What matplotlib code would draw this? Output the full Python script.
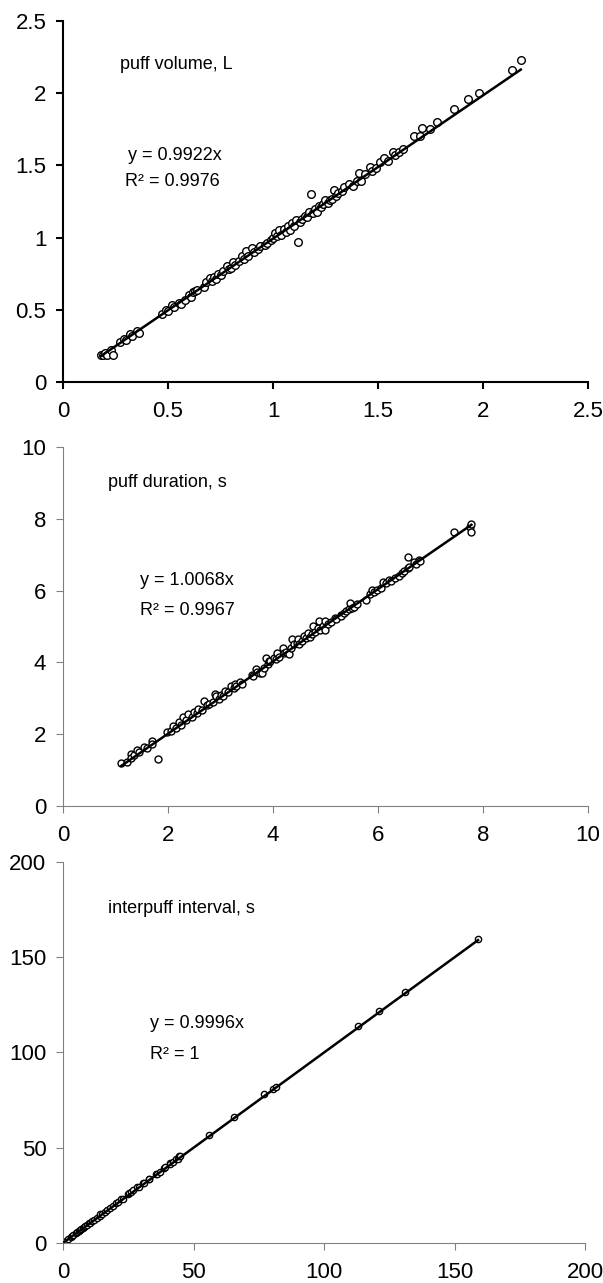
import matplotlib
matplotlib.use("Agg")
import matplotlib.pyplot as plt
from matplotlib.ticker import FuncFormatter

plt.rcParams["font.family"] = ["Liberation Sans", "DejaVu Sans"]

# puff volume, L
vol_x = [0.18, 0.19, 0.20, 0.21, 0.23, 0.24, 0.27, 0.29, 0.30, 0.32, 0.33, 0.35,
         0.36, 0.47, 0.49, 0.50, 0.52, 0.53, 0.55, 0.56, 0.58, 0.60, 0.61, 0.62,
         0.63, 0.64, 0.67, 0.68, 0.70, 0.71, 0.72, 0.73, 0.74, 0.75, 0.76, 0.78,
         0.79, 0.80, 0.81, 0.82, 0.84, 0.85, 0.86, 0.87, 0.88, 0.90, 0.91, 0.93,
         0.94, 0.96, 0.97, 0.99, 1.00, 1.01, 1.02, 1.03, 1.04, 1.05, 1.06, 1.07,
         1.08, 1.09, 1.10, 1.11, 1.12, 1.13, 1.14, 1.15, 1.16, 1.17, 1.18, 1.19,
         1.20, 1.21, 1.22, 1.23, 1.24, 1.25, 1.26, 1.27, 1.28, 1.29, 1.30, 1.31,
         1.33, 1.34, 1.36, 1.38, 1.40, 1.41, 1.42, 1.44, 1.46, 1.47, 1.49, 1.51,
         1.53, 1.55, 1.57, 1.58, 1.60, 1.62, 1.67, 1.70, 1.71, 1.75, 1.78, 1.86,
         1.93, 1.98, 2.14, 2.18]
vol_y = [0.19, 0.19, 0.20, 0.19, 0.22, 0.19, 0.28, 0.30, 0.29, 0.33, 0.32, 0.35,
         0.34, 0.47, 0.50, 0.49, 0.53, 0.52, 0.55, 0.54, 0.57, 0.60, 0.59, 0.62,
         0.63, 0.64, 0.66, 0.69, 0.72, 0.70, 0.73, 0.71, 0.75, 0.74, 0.77, 0.80,
         0.78, 0.79, 0.83, 0.81, 0.84, 0.87, 0.85, 0.91, 0.87, 0.93, 0.90, 0.92,
         0.94, 0.95, 0.96, 0.98, 1.00, 1.03, 1.01, 1.05, 1.02, 1.06, 1.04, 1.08,
         1.05, 1.10, 1.08, 1.12, 0.97, 1.11, 1.13, 1.15, 1.14, 1.18, 1.30, 1.17,
         1.20, 1.18, 1.22, 1.21, 1.23, 1.26, 1.24, 1.26, 1.27, 1.33, 1.29, 1.31,
         1.32, 1.35, 1.37, 1.36, 1.39, 1.45, 1.39, 1.44, 1.49, 1.46, 1.48, 1.52,
         1.55, 1.53, 1.59, 1.57, 1.59, 1.61, 1.70, 1.70, 1.76, 1.75, 1.80, 1.89,
         1.96, 2.00, 2.16, 2.23]

# puff duration, s
dur_x = [1.11, 1.22, 1.29, 1.30, 1.35, 1.40, 1.45, 1.55, 1.60, 1.69, 1.70, 1.80,
         1.99, 2.05, 2.10, 2.15, 2.21, 2.25, 2.28, 2.35, 2.39, 2.45, 2.50, 2.55,
         2.58, 2.65, 2.68, 2.75, 2.79, 2.85, 2.90, 2.92, 2.98, 3.00, 3.05, 3.09,
         3.15, 3.20, 3.25, 3.27, 3.30, 3.38, 3.40, 3.60, 3.62, 3.67, 3.70, 3.75,
         3.79, 3.82, 3.86, 3.90, 3.93, 3.95, 4.01, 4.05, 4.08, 4.12, 4.19, 4.20,
         4.25, 4.30, 4.35, 4.37, 4.40, 4.45, 4.48, 4.50, 4.55, 4.59, 4.62, 4.67,
         4.70, 4.75, 4.77, 4.80, 4.85, 4.88, 4.90, 4.95, 4.99, 4.99, 5.05, 5.10,
         5.18, 5.20, 5.29, 5.30, 5.35, 5.40, 5.45, 5.47, 5.51, 5.55, 5.60, 5.77,
         5.85, 5.88, 5.92, 5.99, 6.05, 6.10, 6.15, 6.21, 6.25, 6.32, 6.40, 6.46,
         6.50, 6.57, 6.57, 6.60, 6.68, 6.72, 6.79, 6.80, 7.45, 7.76, 7.78, 7.78]
dur_y = [1.20, 1.23, 1.46, 1.35, 1.42, 1.55, 1.50, 1.64, 1.62, 1.82, 1.72, 1.32,
         2.06, 2.10, 2.24, 2.18, 2.33, 2.25, 2.47, 2.40, 2.56, 2.48, 2.61, 2.60,
         2.70, 2.68, 2.93, 2.80, 2.84, 2.90, 3.12, 3.05, 2.98, 3.10, 3.05, 3.21,
         3.18, 3.35, 3.30, 3.39, 3.35, 3.44, 3.40, 3.66, 3.62, 3.81, 3.72, 3.70,
         3.70, 3.85, 4.13, 3.95, 4.05, 4.05, 4.12, 4.10, 4.27, 4.15, 4.41, 4.25,
         4.30, 4.22, 4.40, 4.64, 4.50, 4.55, 4.64, 4.52, 4.60, 4.73, 4.68, 4.82,
         4.72, 4.80, 5.00, 4.85, 4.95, 5.14, 4.90, 5.00, 5.14, 4.91, 5.08, 5.12,
         5.24, 5.20, 5.33, 5.30, 5.38, 5.42, 5.48, 5.65, 5.51, 5.55, 5.62, 5.74,
         5.90, 6.02, 5.95, 6.02, 6.08, 6.25, 6.20, 6.29, 6.28, 6.34, 6.42, 6.48,
         6.55, 6.94, 6.62, 6.65, 6.80, 6.75, 6.85, 6.82, 7.63, 7.78, 7.86, 7.63]

# interpuff interval, s
ipi_x = [0.0, 1.0, 2.0, 3.0, 3.5, 4.0, 5.0, 5.5, 6.0, 6.5, 7.0, 7.5, 8.0, 8.5,
         9.0, 10.0, 10.5, 11.0, 12.0, 13.0, 14.0, 14.3, 15.0, 16.0, 17.0, 18.0,
         19.0, 20.2, 21.0, 22.4, 23.0, 25.0, 25.4, 26.0, 27.0, 28.3, 29.0, 30.6,
         31.0, 32.8, 33.0, 35.7, 36.0, 37.0, 38.7, 39.0, 40.9, 41.0, 42.0, 43.1,
         44.0, 44.6, 45.0, 55.9, 65.5, 77.0, 80.3, 81.5, 113.2, 121.0, 130.9, 159.0]
ipi_y = [0.3, 1.2, 2.3, 3.1, 3.8, 4.2, 5.3, 5.6, 6.4, 6.8, 7.3, 7.6, 8.4, 8.7,
         9.2, 10.3, 10.6, 11.4, 12.2, 13.3, 14.3, 15.0, 15.4, 16.2, 17.5, 18.6,
         19.2, 21.0, 21.6, 23.2, 23.2, 25.8, 26.0, 26.5, 27.6, 29.2, 29.2, 31.4,
         31.4, 33.5, 33.5, 36.2, 36.2, 37.5, 39.5, 39.8, 41.8, 41.5, 42.5, 44.1,
         44.2, 45.6, 45.5, 56.6, 66.1, 78.0, 80.8, 81.8, 114.0, 121.8, 131.5, 159.8]

panels = [
    dict(x=vol_x, y=vol_y, slope=0.9922, lim=2.5, step=0.5,
         title="puff volume, L", eq="y = 0.9922x", r2="R² = 0.9976",
         title_xy=(0.27, 2.195), eq_xy=(0.31, 1.57), r2_xy=(0.295, 1.385),
         rect=[0.1045, 0.7023, 0.8706, 0.2814], spine="black", lw=1.5, ms=5.5),
    dict(x=dur_x, y=dur_y, slope=1.0068, lim=10, step=2,
         title="puff duration, s", eq="y = 1.0068x", r2="R² = 0.9967",
         title_xy=(0.86, 9.0), eq_xy=(1.47, 6.27), r2_xy=(1.47, 5.45),
         rect=[0.1045, 0.3718, 0.8706, 0.2798], spine="#808080", lw=0.8, ms=5),
    dict(x=ipi_x, y=ipi_y, slope=0.9996, lim=200, step=50,
         title="interpuff interval, s", eq="y = 0.9996x", r2="R² = 1",
         title_xy=(17.2, 175.7), eq_xy=(33.3, 115), r2_xy=(33.3, 99),
         rect=[0.1045, 0.0312, 0.8657, 0.2970], spine="#808080", lw=0.8, ms=4.5),
]

fig = plt.figure(figsize=(6.03, 12.83), dpi=100)

for p in panels:
    ax = fig.add_axes(p["rect"])
    ax.plot(p["x"], p["y"], "o", mfc="white", mec="black", mew=1.0,
            ms=p["ms"], zorder=2)
    lx = [min(p["x"]), max(p["x"])]
    ax.plot(lx, [p["slope"] * v for v in lx], color="black", lw=1.8, zorder=3)

    ticks = [i * p["step"] for i in range(int(round(p["lim"] / p["step"])) + 1)]
    ax.set_xticks(ticks)
    ax.set_yticks(ticks)
    ax.set_xlim(0, p["lim"])
    ax.set_ylim(0, p["lim"])
    fmt = FuncFormatter(lambda v, pos: f"{v:g}")
    ax.xaxis.set_major_formatter(fmt)
    ax.yaxis.set_major_formatter(fmt)

    for side in ("top", "right"):
        ax.spines[side].set_visible(False)
    for side in ("left", "bottom"):
        ax.spines[side].set_color(p["spine"])
        ax.spines[side].set_linewidth(p["lw"])
    ax.tick_params(axis="both", direction="out", length=5, width=p["lw"],
                   color=p["spine"], labelsize=16)
    ax.tick_params(axis="x", pad=9)
    ax.tick_params(axis="y", pad=7)

    ax.text(*p["title_xy"], p["title"], fontsize=13, va="center", ha="left")
    ax.text(*p["eq_xy"], p["eq"], fontsize=13, va="center", ha="left")
    ax.text(*p["r2_xy"], p["r2"], fontsize=13, va="center", ha="left")

fig.savefig("out.png", dpi=100)
